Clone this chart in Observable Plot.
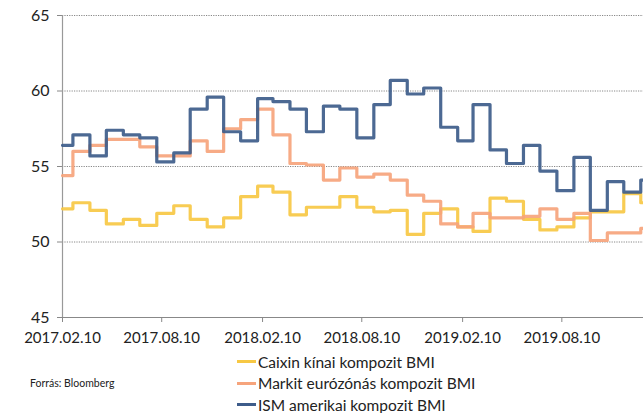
<!DOCTYPE html>
<html>
<head>
<meta charset="utf-8">
<script src="https://cdn.jsdelivr.net/npm/d3@7"></script>
<script src="https://cdn.jsdelivr.net/npm/@observablehq/plot@0.6"></script>
<style>
  html, body { margin: 0; padding: 0; background: #fff; }
  #wrap { position: relative; width: 643px; height: 413px; font-family: Lato, "Noto Sans", sans-serif; color: #222; overflow: hidden; }
  #legend { position: absolute; left: 237px; top: 351px; }
  .row { display: flex; align-items: center; height: 21.5px; font-size: 15.5px; }
  .sw { width: 19px; height: 3px; margin-right: 2px; }
  #source { position: absolute; left: 30px; top: 377px; font-size: 10.5px; }
</style>
</head>
<body>
<div id="wrap">
  <div id="chart"></div>
  <div id="legend"></div>
  <div id="source">Forrás: Bloomberg</div>
</div>
<script>
// Series names and colours
const seriesNames = ["Caixin kínai kompozit BMI", "Markit eurózónás kompozit BMI", "ISM amerikai kompozit BMI"];
const seriesColors = ["#F7C844", "#F6A47C", "#3D5C8A"];

// Monthly readings: first value from 2017.02.10, then one per month start (Mar 2017 .. Jan 2020)
const caixin = [52.2, 52.6, 52.1, 51.2, 51.5, 51.1, 51.9, 52.4, 51.5, 51.0, 51.6, 53.0,
                53.7, 53.3, 51.8, 52.3, 52.3, 53.0, 52.3, 52.0, 52.1, 50.5, 51.9, 52.2,
                51.0, 50.7, 52.9, 52.7, 51.5, 50.8, 51.0, 51.6, 52.0, 52.0, 53.2, 52.6];
const markit = [54.4, 56.0, 56.4, 56.8, 56.8, 56.3, 55.7, 55.7, 56.7, 56.0, 57.5, 58.1,
                58.8, 57.1, 55.2, 55.1, 54.1, 54.9, 54.3, 54.5, 54.1, 53.1, 52.7, 51.2,
                51.0, 51.9, 51.6, 51.6, 51.7, 52.2, 51.5, 51.9, 50.1, 50.6, 50.6, 50.9];
const ism    = [56.4, 57.1, 55.7, 57.4, 57.1, 56.9, 55.3, 55.9, 58.8, 59.6, 57.3, 56.7,
                59.5, 59.3, 58.8, 57.3, 59.0, 58.8, 56.9, 59.1, 60.7, 59.8, 60.2, 57.6,
                56.7, 59.1, 56.1, 55.2, 56.4, 54.7, 53.4, 55.6, 52.1, 54.0, 53.3, 54.1];

// Axis ticks
const xTickLabels = ["2017.02.10", "2017.08.10", "2018.02.10", "2018.08.10", "2019.02.10", "2019.08.10"];
const yTicks = [45, 50, 55, 60, 65];

const parse = d3.utcParse("%Y.%m.%d");
const startDate = parse("2017.02.10");
const endDate = parse("2020.01.06");
const dates = [startDate, ...d3.utcMonth.range(parse("2017.03.01"), parse("2020.01.02"))];

const seriesValues = [caixin, markit, ism];
const rows = [];
seriesValues.forEach((vals, s) => {
  vals.forEach((v, i) => rows.push({series: seriesNames[s], date: dates[i], value: v}));
  rows.push({series: seriesNames[s], date: endDate, value: vals[vals.length - 1]});
});

const chart = Plot.plot({
  width: 643,
  height: 350,
  marginLeft: 62,
  marginRight: 0,
  marginTop: 15,
  marginBottom: 33,
  style: {fontFamily: "Lato, 'Noto Sans', sans-serif", color: "#222", background: "#fff"},
  x: {type: "utc", domain: [startDate, endDate]},
  y: {domain: [45, 65]},
  color: {domain: seriesNames, range: seriesColors},
  marks: [
    Plot.gridY(yTicks.filter(d => d > 45), {stroke: "#888", strokeOpacity: 1, strokeDasharray: "1.2,1.2", strokeWidth: 1}),
    Plot.axisY(yTicks, {tickSize: 5, tickPadding: 8, fontSize: 16, stroke: "#888", label: null}),
    Plot.axisX(xTickLabels.map(parse), {tickSize: 5, tickPadding: 10, fontSize: 15, tickFormat: d3.utcFormat("%Y.%m.%d"), stroke: "#888", label: null}),
    Plot.ruleY([45], {stroke: "#888", strokeWidth: 1}),
    Plot.ruleX([startDate], {stroke: "#999", strokeWidth: 1.2}),
    Plot.line(rows, {x: "date", y: "value", z: "series", stroke: "series", curve: "step-after", strokeWidth: 3.2, strokeOpacity: 0.92})
  ]
});
document.getElementById("chart").appendChild(chart);

const legend = document.getElementById("legend");
seriesNames.forEach((name, i) => {
  const row = document.createElement("div");
  row.className = "row";
  const sw = document.createElement("span");
  sw.className = "sw";
  sw.style.background = seriesColors[i];
  const t = document.createElement("span");
  t.textContent = name;
  row.appendChild(sw);
  row.appendChild(t);
  legend.appendChild(row);
});
</script>
</body>
</html>
